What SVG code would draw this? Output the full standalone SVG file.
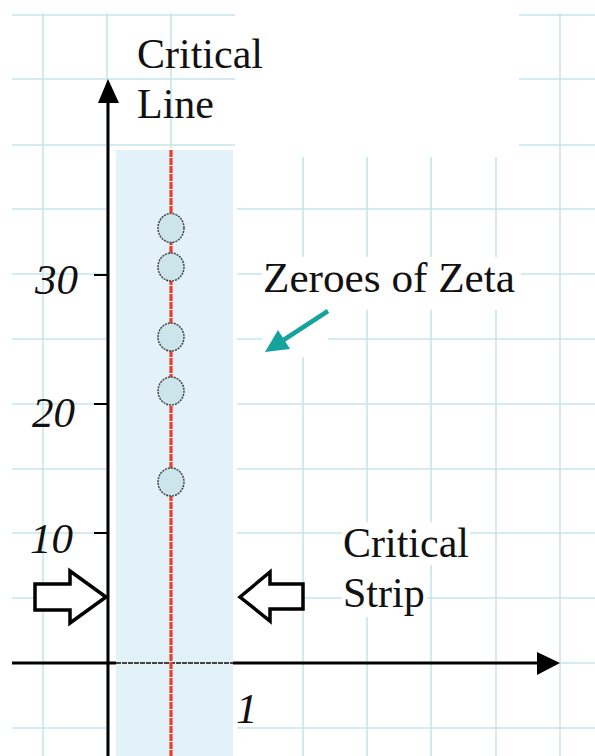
<svg xmlns="http://www.w3.org/2000/svg" width="595" height="756" viewBox="0 0 595 756">
  <style>
    .grid line { stroke: #c6e6ea; stroke-width: 1.6; }
    .white { fill: #ffffff; }
    text { font-family: 'Liberation Serif', 'Times New Roman', 'DejaVu Serif', serif; fill: #111; }
    .lbl { font-size: 42px; }
    .num { font-size: 43px; font-style: italic; }
    .axis { stroke: #000; stroke-width: 3; fill: none; }
    .zero { fill: #cbe5ea; stroke: #444; stroke-width: 1.5; stroke-dasharray: 2 1; }
    .hollow { fill: #fff; stroke: #000; stroke-width: 3.5; stroke-linejoin: miter; }
  </style>
  <rect width="595" height="756" fill="#fff"/>

  <g id="grid" class="grid">
    <line x1="43" y1="13" x2="43" y2="756"/>
    <line x1="107" y1="13" x2="107" y2="756"/>
    <line x1="171" y1="13" x2="171" y2="756"/>
    <line x1="303" y1="13" x2="303" y2="756"/>
    <line x1="367" y1="13" x2="367" y2="756"/>
    <line x1="431" y1="13" x2="431" y2="756"/>
    <line x1="496" y1="13" x2="496" y2="756"/>
    <line x1="560" y1="13" x2="560" y2="756"/>
    <line x1="12" y1="15" x2="595" y2="15"/>
    <line x1="12" y1="79" x2="595" y2="79"/>
    <line x1="12" y1="145" x2="595" y2="145"/>
    <line x1="12" y1="209" x2="595" y2="209"/>
    <line x1="12" y1="274" x2="595" y2="274"/>
    <line x1="12" y1="339" x2="595" y2="339"/>
    <line x1="12" y1="404" x2="595" y2="404"/>
    <line x1="12" y1="469" x2="595" y2="469"/>
    <line x1="12" y1="533" x2="595" y2="533"/>
    <line x1="12" y1="598" x2="595" y2="598"/>
    <line x1="12" y1="663" x2="595" y2="663"/>
    <line x1="12" y1="728" x2="595" y2="728"/>
  </g>

  <g id="blank-areas" class="white">
    <rect x="235" y="0" width="284" height="157"/>
    <rect x="262" y="257" width="259" height="53"/>
    <rect x="262" y="310" width="66" height="47"/>
    <rect x="342" y="522" width="128" height="43"/>
    <rect x="342" y="565" width="85" height="52"/>
    <rect x="109" y="148" width="128" height="608"/>
  </g>

  <g id="critical-strip">
    <rect x="116" y="150" width="117" height="606" fill="#e3f1f9"/>
  </g>

  <g id="axes">
    <line class="axis" x1="108" y1="100" x2="108" y2="756"/>
    <polygon points="108,79 98,103 119,103" fill="#000"/>
    <line class="axis" x1="12" y1="663" x2="116" y2="663"/>
    <line x1="116" y1="663" x2="233" y2="663" stroke="#444" stroke-width="1.8" stroke-dasharray="5 1"/>
    <line class="axis" x1="233" y1="663" x2="540" y2="663"/>
    <polygon points="560,663 537,652 537,675" fill="#000"/>
    <line x1="94" y1="275" x2="108" y2="275" stroke="#000" stroke-width="2"/>
    <line x1="94" y1="404" x2="108" y2="404" stroke="#000" stroke-width="2"/>
    <line x1="94" y1="533" x2="108" y2="533" stroke="#000" stroke-width="2"/>
  </g>

  <g id="critical-line">
    <line x1="171" y1="150" x2="171" y2="756" stroke="#ef3d2a" stroke-width="3.2" stroke-dasharray="7 1"/>
  </g>

  <g id="zeros">
    <ellipse class="zero" cx="171" cy="228" rx="13" ry="14.5"/>
    <ellipse class="zero" cx="171" cy="267" rx="13" ry="14"/>
    <ellipse class="zero" cx="171" cy="337" rx="13" ry="14"/>
    <ellipse class="zero" cx="171" cy="391" rx="13" ry="14"/>
    <ellipse class="zero" cx="171" cy="482" rx="13" ry="14"/>
  </g>

  <g id="tick-labels">
    <text class="num" x="35" y="294">30</text>
    <text class="num" x="32" y="427">20</text>
    <text class="num" x="30" y="553">10</text>
    <text class="num" x="236" y="723">1</text>
  </g>

  <g id="label-critical-line">
    <text class="lbl" x="137" y="68">Critical</text>
    <text class="lbl" x="137" y="118">Line</text>
  </g>

  <g id="label-zeroes">
    <text class="lbl" x="263" y="292" textLength="252" lengthAdjust="spacingAndGlyphs">Zeroes of Zeta</text>
  </g>

  <g id="connectors">
    <line x1="328" y1="311" x2="282" y2="341" stroke="#16a39e" stroke-width="4.5"/>
    <polygon points="265,352 290,349 278,330" fill="#16a39e"/>
  </g>

  <g id="strip-arrows">
    <polygon class="hollow" points="35,584 70,584 70,571 106,597 70,623 70,610 35,610"/>
    <polygon class="hollow" points="240,597 270,572 270,584 303,584 303,609 270,609 270,621"/>
  </g>

  <g id="label-critical-strip">
    <text class="lbl" x="343" y="557">Critical</text>
    <text class="lbl" x="343" y="607">Strip</text>
  </g>
</svg>
